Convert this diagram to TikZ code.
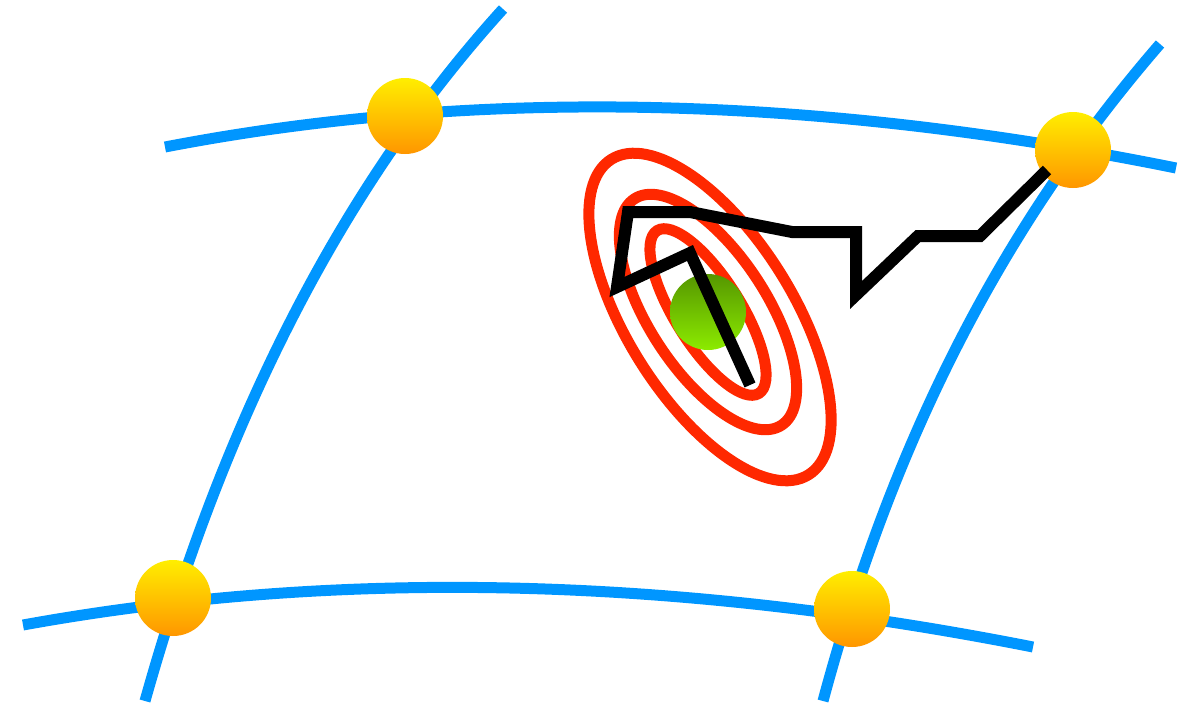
\documentclass[tikz,border=0pt]{standalone}
\definecolor{gridblue}{RGB}{0,150,255}
\definecolor{ringred}{RGB}{255,40,0}
\definecolor{balltop}{RGB}{255,238,0}
\definecolor{ballbot}{RGB}{255,150,0}
\definecolor{greentop}{RGB}{85,150,0}
\definecolor{greenbot}{RGB}{140,235,0}
\begin{document}
\begin{tikzpicture}[x=1pt,y=-1pt,
  gridline/.style={draw=gridblue,line width=11pt},
  ring/.style={draw=ringred,line width=11pt},
  walk/.style={draw=black,line width=12pt,line join=miter},
  goldball/.style={top color=balltop,bottom color=ballbot},
  greenball/.style={top color=greentop,bottom color=greenbot}]
\useasboundingbox (0,0) rectangle (1187,705);
% grid curves
\draw[gridline] (165,147) .. controls (474.7,87.3) and (811.7,94.3) .. (1176,168);
\draw[gridline] (23,625) .. controls (335.7,568.3) and (672.3,575.7) .. (1033,647);
\draw[gridline] (503,9) .. controls (345,183) and (225.7,413.7) .. (145,701);
\draw[gridline] (1160,44) .. controls (1003,225) and (893,440) .. (823,701);
% grid nodes
\coordinate (g1) at (405,116);
\coordinate (g2) at (1073,150);
\coordinate (g3) at (173,598);
\coordinate (g4) at (852,609);
\foreach \g in {g1,g2,g3,g4}{
  \shade[goldball] (\g) circle (38pt);
}
% contour rings
\coordinate (c0) at (710,317);
\coordinate (c1) at (708,312);
\draw[ring, rotate around={32:(c0)}] (c0) ellipse [x radius=83pt, y radius=186pt];
\draw[ring, rotate around={33:(c1)}] (c1) ellipse [x radius=59pt, y radius=135pt];
\draw[ring, rotate around={32:(c1)}] (c1) ellipse [x radius=33pt, y radius=96pt];
% optimum
\coordinate (opt) at (708,312);
\shade[greenball] (opt) circle (38pt);
% walk
\coordinate (w0) at (750,385);
\coordinate (w1) at (690,253);
\coordinate (w2) at (617,287);
\coordinate (w3) at (628,212);
\coordinate (w4) at (690,212);
\coordinate (w5) at (792,232);
\coordinate (w6) at (856,232);
\coordinate (w7) at (856,295);
\coordinate (w8) at (918,236);
\coordinate (w9) at (980,236);
\coordinate (w10) at (1047,170);
\draw[walk] (w0) -- (w1) -- (w2) -- (w3) -- (w4) -- (w5) -- (w6) -- (w7) -- (w8) -- (w9) -- (w10);
\end{tikzpicture}
\end{document}
